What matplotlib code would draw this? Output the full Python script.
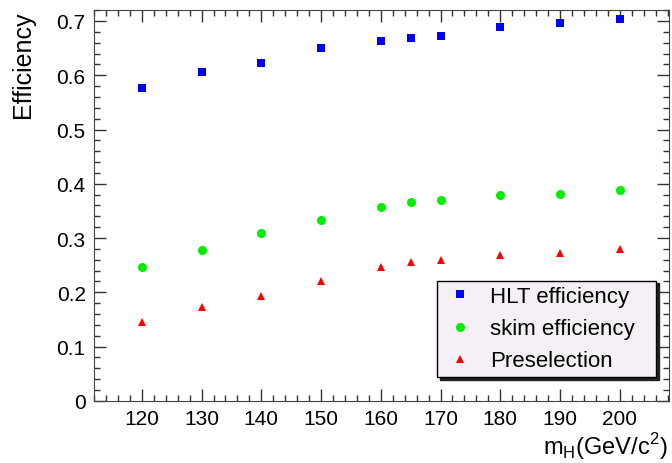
import numpy as np
import matplotlib
matplotlib.use('Agg')
import matplotlib.pyplot as plt
from matplotlib.ticker import MultipleLocator

plt.rcParams['font.family'] = ['Liberation Sans', 'DejaVu Sans']

# Higgs mass points (GeV/c^2)
mass = [120, 130, 140, 150, 160, 165, 170, 180, 190, 200]

hlt_eff = [0.577, 0.606, 0.622, 0.650, 0.663, 0.669, 0.673, 0.688, 0.697, 0.703]
skim_eff = [0.247, 0.278, 0.310, 0.334, 0.358, 0.367, 0.371, 0.380, 0.382, 0.388]
presel_eff = [0.145, 0.173, 0.194, 0.221, 0.246, 0.255, 0.259, 0.268, 0.272, 0.279]

fig = plt.figure(figsize=(6.72, 4.64), dpi=100)
ax = fig.add_axes([0.140, 0.134, 0.856, 0.842])

ax.plot(mass, hlt_eff, 's', color='#0000ff', markersize=6, markeredgewidth=0,
        label='HLT efficiency')
ax.plot(mass, skim_eff, 'o', color='#00ee00', markersize=6.5, markeredgewidth=0,
        label='skim efficiency')
ax.plot(mass, presel_eff, '^', color='#ff0000', markersize=6, markeredgewidth=0,
        label='Preselection')

ax.set_xlim(112, 208.3)
ax.set_ylim(0, 0.72)

ax.xaxis.set_major_locator(MultipleLocator(10))
ax.xaxis.set_minor_locator(MultipleLocator(2))
ax.yaxis.set_major_locator(MultipleLocator(0.1))
ax.yaxis.set_minor_locator(MultipleLocator(0.02))
ax.set_xticks(np.arange(120, 201, 10))
ax.set_yticks(np.arange(0, 0.71, 0.1))
ax.set_yticklabels(['0'] + ['%.1f' % v for v in np.arange(0.1, 0.71, 0.1)])

ax.tick_params(which='both', direction='in', top=True, right=True,
               labelsize=15, color='#333333', width=1)
ax.tick_params(which='major', length=8.5, pad=6)
ax.tick_params(which='minor', length=4.5)
for s in ax.spines.values():
    s.set_color('#444444')

ax.set_ylabel('Efficiency', fontsize=18, loc='top')
ax.yaxis.set_label_coords(-0.102, 1.0)
ax.set_xlabel(r'm$_{\mathregular{H}}$(GeV/c$^{\mathregular{2}}$)', fontsize=17,
              loc='right')
ax.xaxis.set_label_coords(0.997, -0.075)

leg = ax.legend(loc='lower left', bbox_to_anchor=(0.597, 0.061, 0.380, 0.243),
                mode='expand', fontsize=16, frameon=True, fancybox=False,
                shadow={'color': '#222222', 'alpha': 1.0}, handletextpad=0.6,
                borderaxespad=0, labelspacing=0.5, handlelength=1.5,
                borderpad=0.25)
leg.get_frame().set_facecolor('#f5f0f5')
leg.get_frame().set_edgecolor('black')
leg.get_frame().set_alpha(1)

fig.savefig('out.png', dpi=100)
